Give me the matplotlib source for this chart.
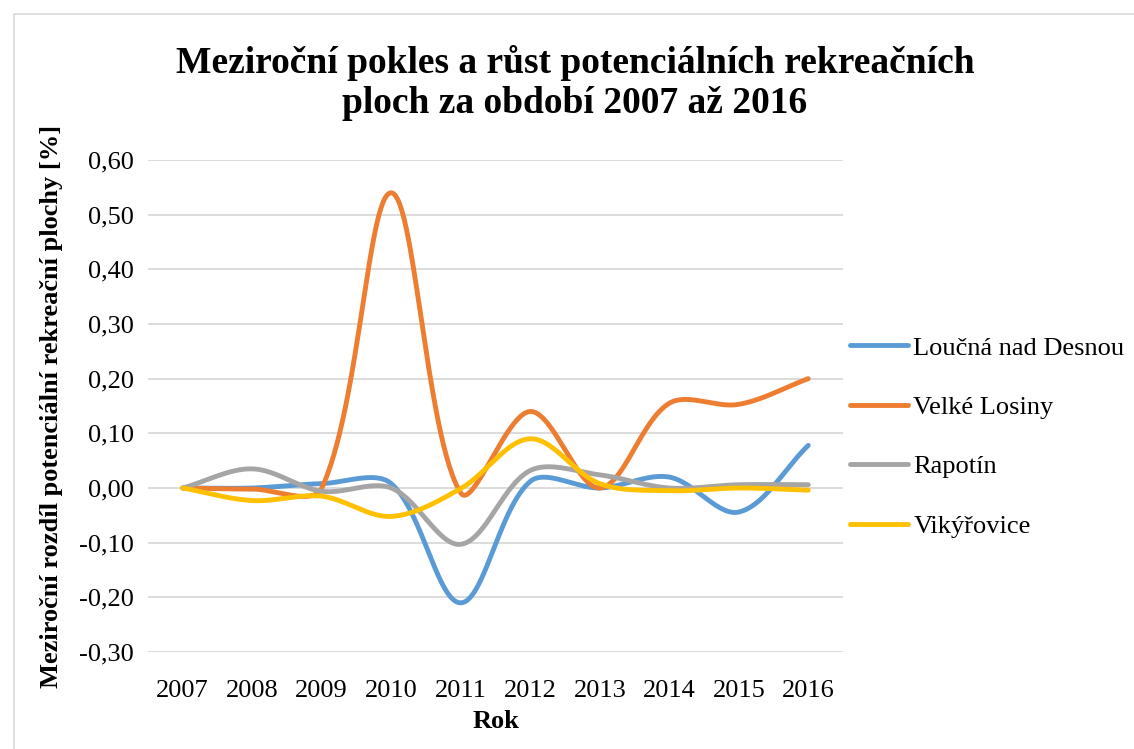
import numpy as np
import matplotlib.pyplot as plt
from matplotlib.patches import Rectangle
from matplotlib.ticker import FuncFormatter

# -- data --
roky = [2007, 2008, 2009, 2010, 2011, 2012, 2013, 2014, 2015, 2016]
loucna = [0.0, 0.0, 0.008, 0.008, -0.21, 0.012, 0.0, 0.02, -0.044, 0.078]
velke_losiny = [0.0, -0.002, 0.0, 0.54, -0.009, 0.14, 0.0, 0.155, 0.153, 0.20]
rapotin = [0.0, 0.035, -0.006, 0.0, -0.103, 0.032, 0.024, 0.0, 0.006, 0.006]
vikyrovice = [0.0, -0.023, -0.015, -0.052, -0.001, 0.09, 0.008, -0.005, 0.0, -0.004]

nazvy = ['Loučná nad Desnou', 'Velké Losiny', 'Rapotín', 'Vikýřovice']
barvy = ['#5B9BD5', '#ED7D31', '#A5A5A5', '#FFC000']

# pixel scale of one category step and one y unit (for the smoothing)
SX, SY = 69.4, 547.0


def vyhladit(x, y, n=60):
    # Excel-like smoothing: Bezier, tangents scaled by chord lengths
    P = np.column_stack([np.asarray(x, float) * SX, np.asarray(y, float) * SY])
    k = len(P)
    xs, ys = [], []
    for i in range(k - 1):
        a = P[i - 1] if i > 0 else P[i]
        b, c = P[i], P[i + 1]
        d = P[i + 2] if i + 2 < k else P[i + 1]
        l_ab, l_bc, l_cd = np.linalg.norm(b - a), np.linalg.norm(c - b), np.linalg.norm(d - c)
        p1 = b + (c - a) / 3 * (l_bc / (l_ab + l_bc) if l_ab + l_bc > 0 else 0)
        p2 = c - (d - b) / 3 * (l_bc / (l_bc + l_cd) if l_bc + l_cd > 0 else 0)
        t = np.linspace(0, 1, n)[:, None]
        bz = (1 - t)**3 * b + 3 * (1 - t)**2 * t * p1 + 3 * (1 - t) * t**2 * p2 + t**3 * c
        xs.extend(bz[:, 0] / SX)
        ys.extend(bz[:, 1] / SY)
    return np.array(xs), np.array(ys)


plt.rcParams['font.family'] = ['Liberation Serif', 'DejaVu Serif']

fig = plt.figure(figsize=(11.34, 7.49), dpi=100)
ax = fig.add_axes([0.1305, 0.1295, 0.6129, 0.6569])

fig.patches.append(Rectangle((14 / 1134, -0.05), 1.2, 1 - 14 / 749 + 0.05,
                             transform=fig.transFigure, fill=False,
                             edgecolor='#D9D9D9', linewidth=1.2))

pozice = np.arange(len(roky))
for vals, nazev, barva in zip([loucna, velke_losiny, rapotin, vikyrovice], nazvy, barvy):
    xs, ys = vyhladit(pozice, vals)
    ax.plot(xs, ys, color=barva, linewidth=3.5, label=nazev, solid_capstyle='round')

ax.set_xlim(-0.5, len(roky) - 0.5)
ax.set_ylim(-0.30, 0.60)
ax.set_yticks(np.arange(-0.3, 0.61, 0.1))
ax.yaxis.set_major_formatter(FuncFormatter(lambda v, p: f'{v:.2f}'.replace('.', ',').replace('-0,00', '0,00')))
ax.set_xticks(pozice)
ax.set_xticklabels([str(r) for r in roky])
ax.tick_params(axis='x', length=0, labelsize=19, pad=20)
ax.tick_params(axis='y', length=0, labelsize=19, pad=10)
ax.grid(axis='y', color='#D9D9D9', linewidth=1.3)
ax.set_axisbelow(True)
for s in ax.spines.values():
    s.set_visible(False)

ax.set_xlabel('Rok', fontsize=19, fontweight='bold', labelpad=6)
ax.set_ylabel('Meziroční rozdíl potenciální rekreační plochy [%]', fontsize=19,
              fontweight='bold', labelpad=12)

fig.text(0.507, 0.889, 'Meziroční pokles a růst potenciálních rekreačních\nploch za období 2007 až 2016',
         ha='center', va='center', fontsize=27, fontweight='bold', linespacing=1.2)

ax.legend(loc='center left', bbox_to_anchor=(850 / 1134, 1 - 437 / 749),
          bbox_transform=fig.transFigure, frameon=False, fontsize=19,
          handlelength=2.2, handletextpad=0.2, labelspacing=1.36, borderaxespad=0, borderpad=0)

fig.savefig('out.png', dpi=100)
